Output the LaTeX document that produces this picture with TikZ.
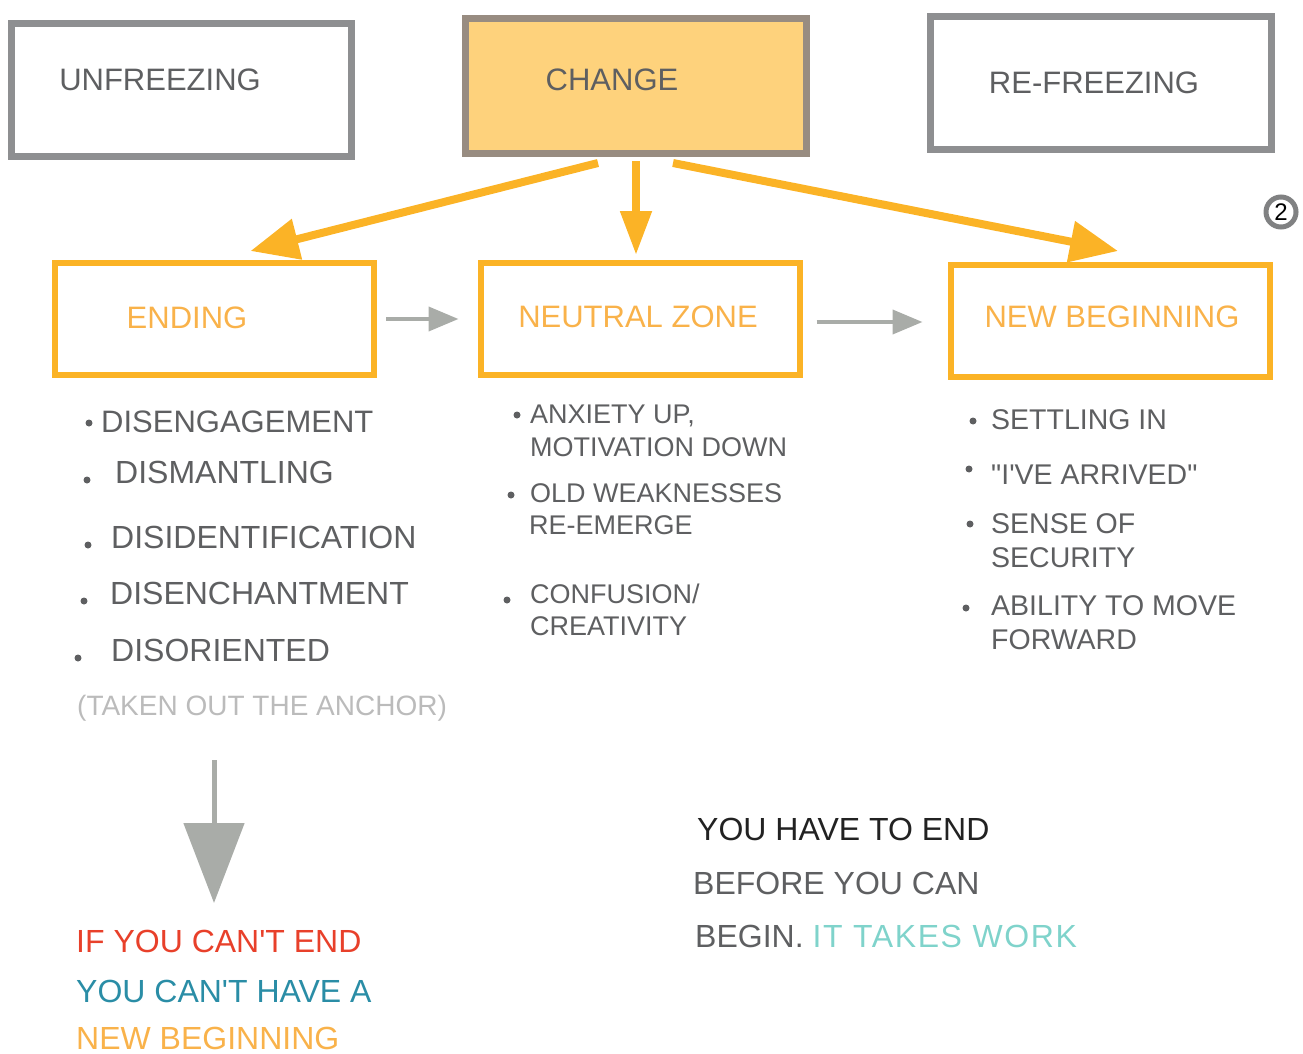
\documentclass[tikz,border=0pt]{standalone}
\usepackage{fontspec}
\setmainfont{Liberation Sans}
\newfontfamily\qfont{Liberation Sans}
\usetikzlibrary{arrows.meta}
\definecolor{boxgray}{HTML}{8E8F91}
\definecolor{txtgray}{HTML}{5E5F61}
\definecolor{orng}{HTML}{FBB326}
\definecolor{orngtxt}{HTML}{F9B24A}
\definecolor{chfill}{HTML}{FED27C}
\definecolor{arrgray}{HTML}{A9ACA8}
\definecolor{lightgray}{HTML}{BBBBBB}
\definecolor{redtxt}{HTML}{E8402A}
\definecolor{tealtxt}{HTML}{2A8DA6}
\definecolor{mint}{HTML}{7FD3CB}
\definecolor{darktxt}{HTML}{222222}
\tikzset{
  graybox/.style={draw=boxgray, line width=7pt, minimum width=340pt, minimum height=133pt, inner sep=0pt},
  orangebox/.style={draw=orng, line width=6pt, minimum width=319pt, minimum height=112pt, inner sep=0pt},
  boxlabel/.style={font=\fontsize{31}{36}\selectfont, inner sep=0pt},
  item/.style={anchor=base west, inner sep=0pt, text=txtgray},
  itemL/.style={item, font=\fontsize{32}{36}\selectfont},
  itemM/.style={item, font=\fontsize{27}{31}\selectfont},
  itemR/.style={item, font=\qfont\fontsize{28.5}{32}\selectfont},
  quote/.style={anchor=base west, inner sep=0pt, font=\qfont\fontsize{32}{36}\selectfont},
  dot/.style={circle, fill=txtgray, inner sep=0pt, minimum size=7pt},
  oarrow/.style={draw=orng, line width=8pt, -{Triangle[length=48pt,width=40pt]}},
  garrow/.style={draw=arrgray, line width=4pt, -{Triangle[length=30pt,width=24pt]}},
}
\begin{document}
\begin{tikzpicture}[x=1pt,y=-1pt]
\useasboundingbox (0,0) rectangle (1303,1054);
% top boxes
\node[graybox] (unf) at (181.5,90) {};
\node[boxlabel, text=txtgray] (unft) at (160,80) {UNFREEZING};
\node[graybox, fill=chfill, draw=boxgray!80!brown, minimum width=341pt, minimum height=135pt] (change) at (636,86) {};
\node[boxlabel, text=txtgray] (changet) at (612,80) {CHANGE};
\node[graybox, minimum width=341pt] (refr) at (1101,83) {};
\node[boxlabel, text=txtgray] (refrt) at (1094,83) {RE-FREEZING};
% circled 2
\node[circle, draw=boxgray!90!black, line width=5pt, minimum size=30pt, inner sep=0pt, font=\fontsize{24}{26}\selectfont] (two) at (1281,212) {2};
% orange boxes
\node[orangebox] (ending) at (214.5,319) {};
\node[boxlabel, text=orngtxt] (endingt) at (187,318) {ENDING};
\node[orangebox] (neutral) at (640,319) {};
\node[boxlabel, text=orngtxt] (neutralt) at (638,317) {NEUTRAL ZONE};
\node[orangebox] (newb) at (1110,321) {};
\node[boxlabel, text=orngtxt] (newbt) at (1112,317) {NEW BEGINNING};
% orange arrows
\draw[oarrow] ([xshift=-38pt,yshift=-6pt]change.south) -- ([xshift=36pt,yshift=9pt]ending.north);
\draw[oarrow, -{Triangle[length=44pt,width=30pt]}] ([xshift=0pt,yshift=-4pt]change.south) -- ([xshift=-4pt,yshift=5pt]neutral.north);
\draw[oarrow] ([xshift=37pt,yshift=-6pt]change.south) -- ([xshift=8pt,yshift=11pt]newb.north);
% gray arrows
\draw[garrow, shorten <=9pt, shorten >=19pt] (ending.east) -- (neutral.west);
\draw[garrow, shorten <=14pt, shorten >=25pt] ([yshift=-3pt]neutral.east) -- ([yshift=-1pt]newb.west);
% ENDING list
\node[dot] (b1) at (89,423) {};
\node[itemL, font=\fontsize{31}{35}\selectfont] (e1) at (101,432) {DISENGAGEMENT};
\node[dot] (b2) at (87,480) {};
\node[itemL] (e2) at (115,483) {DISMANTLING};
\node[dot] (b3) at (88,545) {};
\node[itemL] (e3) at (111,548) {DISIDENTIFICATION};
\node[dot] (b4) at (84,601) {};
\node[itemL] (e4) at (110,604) {DISENCHANTMENT};
\node[dot] (b5) at (78,658) {};
\node[itemL] (e5) at (111,661) {DISORIENTED};
\node[item, text=lightgray, font=\fontsize{28}{32}\selectfont] (anch) at (77,715) {(TAKEN OUT THE ANCHOR)};
% NEUTRAL list
\node[dot] (n1b) at (517,415) {};
\node[itemM] (n1) at (530,423) {ANXIETY UP,};
\node[itemM] (n1x) at (530,456) {MOTIVATION DOWN};
\node[dot] (n2b) at (511,495) {};
\node[itemM] (n2) at (530,502) {OLD WEAKNESSES};
\node[itemM] (n2x) at (529,534) {RE-EMERGE};
\node[dot] (n3b) at (507,600) {};
\node[itemM] (n3) at (530,603) {CONFUSION/};
\node[itemM] (n3x) at (530,635) {CREATIVITY};
% NEW BEGINNING list
\node[dot] (r1b) at (973,421) {};
\node[itemR] (r1) at (991,429) {SETTLING IN};
\node[dot] (r2b) at (969,469) {};
\node[itemR] (r2) at (991,484) {"I'VE ARRIVED"};
\node[dot] (r3b) at (970,524) {};
\node[itemR] (r3) at (991,533) {SENSE OF};
\node[itemR] (r3x) at (991,567) {SECURITY};
\node[dot] (r4b) at (966,608) {};
\node[itemR] (r4) at (991,615) {ABILITY TO MOVE};
\node[itemR] (r4x) at (991,649) {FORWARD};
% down arrow
\coordinate (dtop) at (214,760);
\coordinate (dbot) at (214,903);
\draw[draw=arrgray, line width=5pt, -{Triangle[length=80pt,width=60pt]}] (dtop) -- (dbot);
% bottom left text
\node[quote, text=redtxt] (q1) at (76,952) {IF YOU CAN'T END};
\node[quote, text=tealtxt] (q2) at (76,1002) {YOU CAN'T HAVE A};
\node[quote, text=orngtxt] (q3) at (76,1049) {NEW BEGINNING};
% bottom right text
\node[quote, text=darktxt] (s1) at (697,840) {YOU HAVE TO END};
\node[quote, text=txtgray] (s2) at (693,894) {BEFORE YOU CAN};
\node[quote, text=txtgray] (s3) at (695,947) {BEGIN. \textcolor{mint}{\addfontfeature{LetterSpace=5}IT TAKES WORK}};
\end{tikzpicture}
\end{document}
